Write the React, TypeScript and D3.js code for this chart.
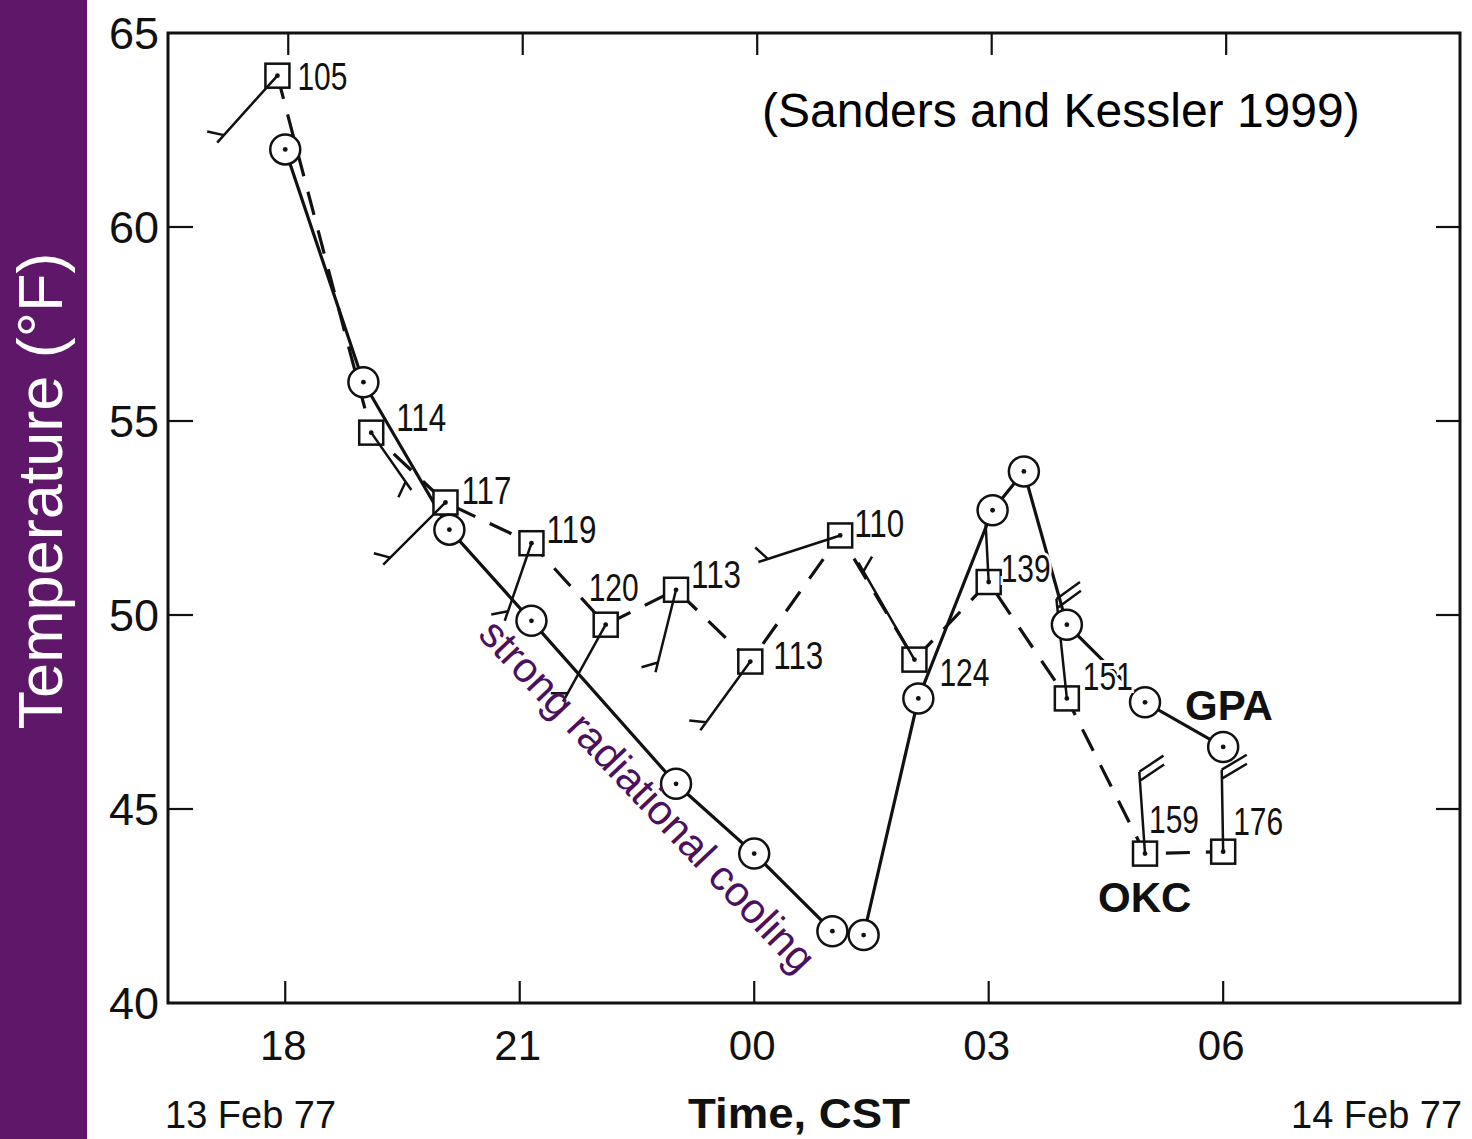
import React from "react";
import * as d3 from "d3";

const WIDTH = 1472;
const HEIGHT = 1139;

// hours after 18 CST, 13 Feb 77
const X_TICKS = [0, 3, 6, 9, 12];
const X_TICK_LABELS = ["18", "21", "00", "03", "06"];
const Y_TICKS = [40, 45, 50, 55, 60, 65];

// GPA (circles, solid line)
const GPA_HOURS = [0.0, 1.0, 2.1, 3.15, 5.0, 6.0, 7.0, 7.4, 8.1, 9.05, 9.45, 10.0, 11.0, 12.0];
const GPA_TEMPS = [62.0, 56.0, 52.2, 49.85, 45.65, 43.85, 41.85, 41.75, 47.85, 52.7, 53.7, 49.75, 47.75, 46.6];

// OKC (squares, dashed line)
const OKC_HOURS = [-0.1, 1.1, 2.05, 3.15, 4.1, 5.0, 5.95, 7.1, 8.05, 9.0, 10.0, 11.0, 12.0];
const OKC_TEMPS = [63.9, 54.7, 52.9, 51.85, 49.75, 50.65, 48.8, 52.05, 48.85, 50.85, 47.85, 43.85, 43.9];
const OKC_LABELS = ["105", "114", "117", "119", "120", "113", "113", "110", "124", "139", "151", "159", "176"];
const OKC_WIND_DIR = [222, 145, 225, 199, 209, 194, 216, 252, 330, 357, 354, 356, 359];
const OKC_WIND_KT = [5, 5, 5, 5, 5, 5, 5, 5, 5, 2, 20, 20, 20];

// layout only: label offsets from the square, and staff lengths
const LABEL_OFFSETS = [
  [20, 14], [25, -2], [16, 2], [15, 0], [-17, -24], [15, -2], [23, 7],
  [14, 2], [25, 26], [12, 0], [16, -8], [4, -21], [10, -17],
];
const STAFF_LEN = [90, 70, 88, 82, 88, 85, 85, 86, 112, 58, 100, 82, 82];

const FONT = "'Liberation Sans', Arial, Helvetica, sans-serif";
const INK = "#111";

const x = d3.scaleLinear().domain([-1.5, 15.03]).range([168, 1460]);
const y = d3.scaleLinear().domain([40, 65]).range([1003, 33]);

function barbPath(cx: number, cy: number, dir: number, kt: number, len: number) {
  const r = (dir * Math.PI) / 180;
  const ux = Math.sin(r);
  const uy = -Math.cos(r);
  const px = -uy;
  const py = ux;
  const tx = 0.5 * ux + 0.87 * px;
  const ty = 0.5 * uy + 0.87 * py;
  const ex = cx + ux * len;
  const ey = cy + uy * len;
  const path = d3.path();
  path.moveTo(cx, cy);
  path.lineTo(ex, ey);
  const full = Math.floor(kt / 10);
  const half = kt % 10 >= 5 ? 1 : 0;
  let pos = 0;
  for (let i = 0; i < full; i++) {
    const bx = ex - ux * pos;
    const by = ey - uy * pos;
    path.moveTo(bx, by);
    path.lineTo(bx + tx * 29, by + ty * 29);
    pos += 9;
  }
  if (half) {
    if (full === 0) pos = 10;
    const bx = ex - ux * pos;
    const by = ey - uy * pos;
    path.moveTo(bx, by);
    path.lineTo(bx + tx * 17, by + ty * 17);
  }
  return path.toString();
}

export default function App() {
  const gpa = GPA_HOURS.map((h, i) => [x(h), y(GPA_TEMPS[i])] as [number, number]);
  const okc = OKC_HOURS.map((h, i) => [x(h), y(OKC_TEMPS[i])] as [number, number]);
  const line = d3.line();

  return (
    <svg
      width={WIDTH}
      height={HEIGHT}
      style={{ position: "absolute", left: 0, top: 0, background: "#fff" }}
      fontFamily={FONT}
    >
      {/* purple band with y title */}
      <rect x={0} y={0} width={87} height={HEIGHT} fill="#5e1769" />
      <text
        transform="translate(62,491) rotate(-90)"
        textAnchor="middle"
        fontSize={63}
        fill="#fff"
      >
        Temperature (°F)
      </text>

      {/* frame */}
      <rect x={168} y={33} width={1292} height={970} fill="none" stroke={INK} strokeWidth={3} />

      {X_TICKS.map((t, i) => (
        <g key={"xt" + t}>
          <line x1={x(t)} x2={x(t)} y1={1003} y2={981} stroke={INK} strokeWidth={2.2} />
          <line x1={x(t) + 3} x2={x(t) + 3} y1={33} y2={55} stroke={INK} strokeWidth={2.2} />
          <text x={x(t) - 2} y={1060} textAnchor="middle" fontSize={42} fill={INK}>
            {X_TICK_LABELS[i]}
          </text>
        </g>
      ))}

      {Y_TICKS.map((v) => (
        <g key={"yt" + v}>
          {v > 40 && v < 65 && (
            <>
              <line x1={168} x2={193} y1={y(v)} y2={y(v)} stroke={INK} strokeWidth={2.2} />
              <line x1={1460} x2={1436} y1={y(v)} y2={y(v)} stroke={INK} strokeWidth={2.2} />
            </>
          )}
          <text x={159} y={y(v)} dy="0.36em" textAnchor="end" fontSize={45} fill={INK}>
            {v}
          </text>
        </g>
      ))}

      <text x={165} y={1128} fontSize={38} fill={INK}>
        13 Feb 77
      </text>
      <text x={688} y={1128} fontSize={42} fontWeight="bold" textLength={222} lengthAdjust="spacingAndGlyphs" fill={INK}>
        Time, CST
      </text>
      <text x={1291} y={1128} fontSize={38} fill={INK}>
        14 Feb 77
      </text>

      <text x={762} y={127} fontSize={48} fill="#000">
        (Sanders and Kessler 1999)
      </text>

      {/* series lines */}
      <path d={line(gpa) || ""} fill="none" stroke={INK} strokeWidth={3.2} />
      <path d={line(okc) || ""} fill="none" stroke={INK} strokeWidth={3.2} strokeDasharray="24 16" />

      {/* OKC squares */}
      {okc.map(([cx, cy], i) => (
        <g key={"sq" + i}>
          <rect x={cx - 12} y={cy - 12} width={24} height={24} fill="#fff" stroke={INK} strokeWidth={2.5} />
          <circle cx={cx} cy={cy} r={2.4} fill={INK} />
        </g>
      ))}

      {/* wind barbs */}
      {okc.map(([cx, cy], i) => (
        <path
          key={"wb" + i}
          d={barbPath(cx, cy, OKC_WIND_DIR[i], OKC_WIND_KT[i], STAFF_LEN[i])}
          fill="none"
          stroke={INK}
          strokeWidth={2.5}
        />
      ))}

      {/* GPA circles */}
      {gpa.map(([cx, cy], i) => (
        <g key={"ci" + i}>
          <circle cx={cx} cy={cy} r={15} fill="#fff" stroke={INK} strokeWidth={2.5} />
          <circle cx={cx} cy={cy} r={2.4} fill={INK} />
        </g>
      ))}

      {/* OKC labels */}
      {okc.map(([cx, cy], i) => (
        <text
          key={"lb" + i}
          x={cx + LABEL_OFFSETS[i][0]}
          y={cy + LABEL_OFFSETS[i][1]}
          fontSize={38}
          textLength={50}
          lengthAdjust="spacingAndGlyphs"
          fill={INK}
          stroke="#fff"
          strokeWidth={6}
          paintOrder="stroke"
        >
          {OKC_LABELS[i]}
        </text>
      ))}

      <text x={1185} y={720} fontSize={42} fontWeight="bold" fill={INK}>
        GPA
      </text>
      <text x={1098} y={912} fontSize={42} fontWeight="bold" fill={INK}>
        OKC
      </text>

      <text
        transform="translate(645,798) rotate(46.6)"
        textAnchor="middle"
        dy="0.26em"
        fontSize={42}
        fill="#4b1160"
      >
        strong radiational cooling
      </text>
    </svg>
  );
}
